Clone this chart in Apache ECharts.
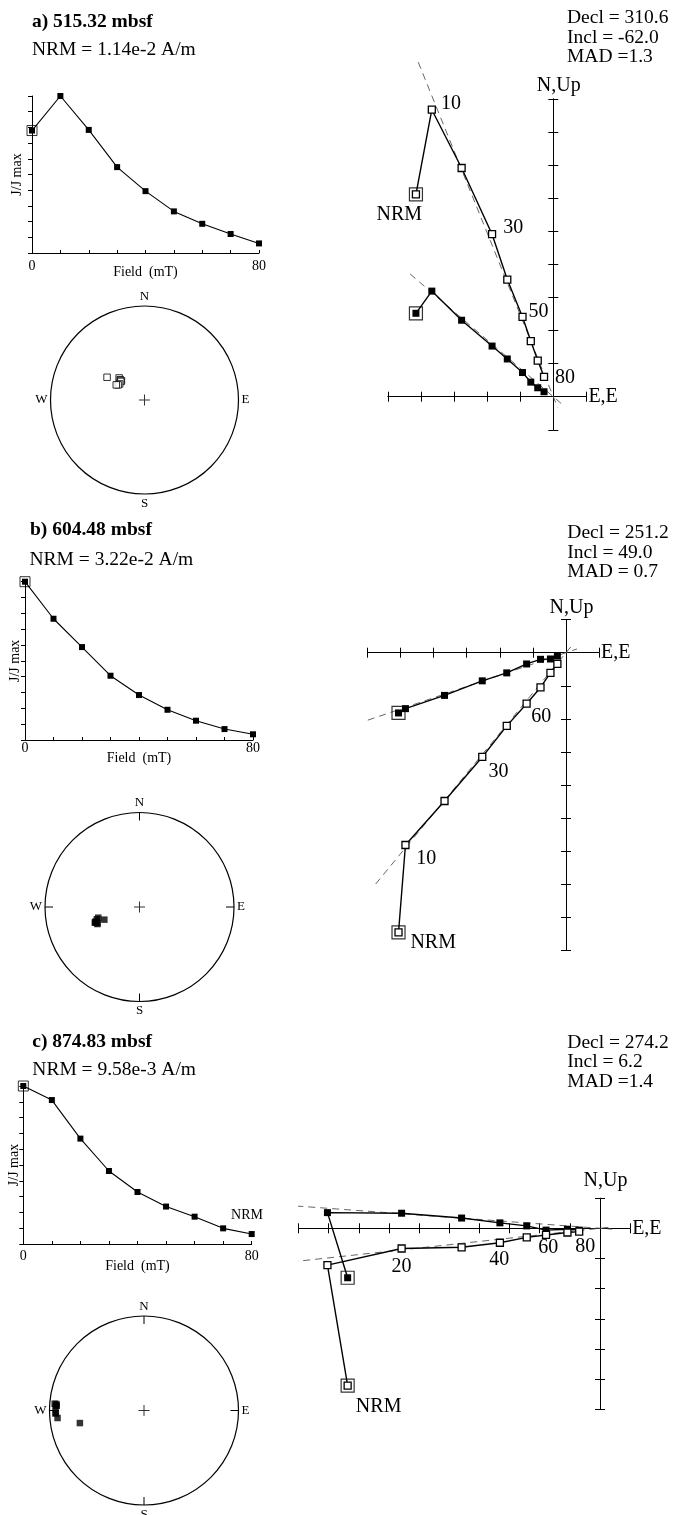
<!DOCTYPE html>
<html>
<head>
<meta charset="utf-8">
<script src="https://cdn.jsdelivr.net/npm/echarts@6/dist/echarts.min.js"></script>
<style>
html, body { margin: 0; padding: 0; background: #fff; }
#main { width: 673px; height: 1515px; }
</style>
</head>
<body>
<div id="main"></div>
<script>
const FONT = '"Liberation Serif", "Times New Roman", serif';

// AF demagnetization steps (mT); index 0 is the NRM
const fieldSteps = [0, 10, 20, 30, 40, 50, 60, 70, 80];

// Normalized intensity J/Jmax at each step
const intensityA = [0.78, 1.0, 0.784, 0.547, 0.394, 0.265, 0.186, 0.121, 0.061];
const intensityB = [1.0, 0.766, 0.587, 0.406, 0.284, 0.191, 0.122, 0.069, 0.036];
const intensityC = [1.0, 0.911, 0.667, 0.462, 0.329, 0.237, 0.173, 0.099, 0.063];

// Vector components per step (arbitrary units = one axis tick)
const eastA  = [-4.15, -3.67, -2.77, -1.85, -1.39, -0.93, -0.68, -0.47, -0.28];
const northA = [2.52, 3.19, 2.31, 1.53, 1.14, 0.73, 0.44, 0.27, 0.15];
const upA    = [6.11, 8.67, 6.91, 4.91, 3.54, 2.41, 1.68, 1.09, 0.60];

const eastB  = [-5.06, -4.85, -3.67, -2.53, -1.79, -1.19, -0.77, -0.47, -0.26];
const northB = [-1.82, -1.69, -1.29, -0.85, -0.61, -0.34, -0.20, -0.19, -0.10];
const upB    = [-8.45, -5.81, -4.48, -3.15, -2.21, -1.54, -1.05, -0.61, -0.34];

const eastC  = [-8.37, -9.04, -6.58, -4.59, -3.32, -2.43, -1.79, -1.08, -0.69];
const northC = [-1.64, 0.52, 0.50, 0.34, 0.18, 0.08, -0.06, -0.03, -0.06];
const upC    = [-5.22, -1.22, -0.67, -0.63, -0.48, -0.30, -0.22, -0.14, -0.11];

// Step annotations on the vertical projection
const stepTextA = ['NRM', '10', '', '30', '', '50', '', '', '80'];
const stepTextB = ['NRM', '10', '', '30', '', '', '60', '', ''];
const stepTextC = ['NRM', '', '20', '', '40', '', '60', '', '80'];

// Principal component results: declination, inclination, MAD
const fitA = [310.6, -62.0, 1.3];
const fitB = [251.2, 49.0, 0.7];
const fitC = [274.2, 6.2, 1.4];

// Extent of the fitted direction along each projection (far end first, then past the origin)
const fitSpanA = { h: [5.7, -0.35], v: [10.9, -0.35] };
const fitSpanB = { h: [7.05, -0.35], v: [9.05, -0.35] };
const fitSpanC = { h: [10.5, -0.4], v: [10.3, -0.4] };

const panels = [
  {
    title: 'a) 515.32 mbsf', nrm: 'NRM = 1.14e-2 A/m', madSep: ' =',
    intensity: intensityA, east: eastA, north: northA, up: upA,
    steps: stepTextA, fit: fitA, span: fitSpanA,
    layout: {
      title: [32, 22], nrm: [32, 50], result: [567, 18.3],
      int: { left: 32, top: 96, width: 227, height: 157, labelMargin: 6, gapX: 12, gapY: 8 },
      zij: { left: 387.8, top: 98.8, width: 198.6, height: 331, x: [-5, 1], y: [-1, 9], upGap: 3 },
      labelOffset: [[-16.7, 20.7], [19.3, -6], null, [21.3, -6.3], null, [16, -5], null, null, [21, 1]],
      net: { center: [144.5, 400], radius: 94, ticks: false }
    }
  },
  {
    title: 'b) 604.48 mbsf', nrm: 'NRM = 3.22e-2 A/m', madSep: ' = ',
    intensity: intensityB, east: eastB, north: northB, up: upB,
    steps: stepTextB, fit: fitB, span: fitSpanB,
    layout: {
      title: [30, 530], nrm: [29.5, 560], result: [567.3, 533.3],
      int: { left: 25, top: 581.7, width: 228, height: 158.3, labelMargin: 1, gapX: 11, gapY: 3 },
      zij: { left: 367.4, top: 619.6, width: 231.7, height: 331, x: [-6, 1], y: [-9, 1], upGap: 2 },
      labelOffset: [[34.7, 10], [20.7, 14], null, [16.3, 15], null, null, [0.7, 29.3], null, null],
      net: { center: [139.5, 907], radius: 94.5, ticks: true }
    }
  },
  {
    title: 'c) 874.83 mbsf', nrm: 'NRM = 9.58e-3 A/m', madSep: ' =',
    intensity: intensityC, east: eastC, north: northC, up: upC,
    steps: stepTextC, fit: fitC, span: fitSpanC,
    layout: {
      title: [32.3, 1041.7], nrm: [32.3, 1070], result: [567.3, 1042.7],
      int: { left: 23.3, top: 1086, width: 228.4, height: 158, labelMargin: 5.5, gapX: 15, gapY: 1.5 },
      zij: { left: 298.5, top: 1198.15, width: 331.65, height: 211.05, x: [-10, 1], y: [-6, 1], upGap: 7 },
      labelOffset: [[31, 21], null, [0, 18], null, [-0.7, 17.3], null, [2.3, 13.3], null, [6, 15]],
      net: { center: [144, 1410.5], radius: 94.5, ticks: true },
      strayNrm: [247, 1215]
    }
  }
];

const BLACK = '#000';
const axisLineStyle = { color: BLACK, width: 1 };
const deg = Math.PI / 180;

// Equal-area projection of one vector onto the lower/upper hemisphere net
function toNet(e, n, u) {
  const h = Math.hypot(e, n);
  const dec = (Math.atan2(e, n) / deg + 360) % 360;
  const inc = Math.atan2(-u, h) / deg;
  const r = Math.SQRT2 * Math.sin((90 - Math.abs(inc)) / 2 * deg);
  return { r, dec, lower: inc >= 0 };
}

const option = {
  animation: false,
  backgroundColor: '#fff',
  textStyle: { fontFamily: FONT },
  grid: [], xAxis: [], yAxis: [],
  polar: [], angleAxis: [], radiusAxis: [],
  series: [], graphic: []
};

function text(x, y, str, size, weight, align) {
  option.graphic.push({
    type: 'text', x, y, silent: true,
    style: {
      text: str, fill: BLACK, align: align || 'left', verticalAlign: 'middle',
      font: (weight || 'normal') + ' ' + size + 'px ' + FONT
    }
  });
}

panels.forEach((p) => {
  const L = p.layout;

  // Headings and fit results
  text(L.title[0], L.title[1], p.title, 19.5, 'bold');
  text(L.nrm[0], L.nrm[1], p.nrm, 19.5);
  text(L.result[0], L.result[1], 'Decl = ' + p.fit[0].toFixed(1), 19.5);
  text(L.result[0], L.result[1] + 19.5, 'Incl = ' + p.fit[1].toFixed(1), 19.5);
  text(L.result[0], L.result[1] + 39, 'MAD' + p.madSep + p.fit[2].toFixed(1), 19.5);
  if (L.strayNrm) text(L.strayNrm[0], L.strayNrm[1], 'NRM', 14, 'normal', 'center');

  // ---- Intensity decay curve ----
  const gi = option.grid.length;
  option.grid.push({ left: L.int.left, top: L.int.top, width: L.int.width, height: L.int.height, containLabel: false, outerBoundsMode: 'none' });
  const xi = option.xAxis.length, yi = option.yAxis.length;
  option.xAxis.push({
    gridIndex: gi, type: 'value', min: 0, max: 80, interval: 10,
    axisLine: { show: true, onZero: false, lineStyle: axisLineStyle },
    axisTick: { show: true, inside: true, length: 3, lineStyle: axisLineStyle },
    axisLabel: {
      formatter: (v) => (v === 0 || v === 80 ? String(v) : ''),
      margin: L.int.labelMargin, fontFamily: FONT, fontSize: 14, color: BLACK
    },
    splitLine: { show: false },
    name: 'Field  (mT)', nameLocation: 'middle', nameGap: L.int.gapX, nameMoveOverlap: false,
    nameTextStyle: { fontFamily: FONT, fontSize: 14, color: BLACK }
  });
  option.yAxis.push({
    gridIndex: gi, type: 'value', min: 0, max: 1, interval: 0.1,
    axisLine: { show: true, onZero: false, lineStyle: axisLineStyle },
    axisTick: { show: true, length: 4, lineStyle: axisLineStyle },
    axisLabel: { show: false },
    splitLine: { show: false },
    name: 'J/J max', nameLocation: 'middle', nameGap: L.int.gapY, nameMoveOverlap: false,
    nameTextStyle: { fontFamily: FONT, fontSize: 14, color: BLACK }
  });
  option.series.push({
    type: 'line', xAxisIndex: xi, yAxisIndex: yi,
    data: fieldSteps.map((f, i) => [f, p.intensity[i]]),
    symbol: 'rect', symbolSize: 6, showAllSymbol: true,
    itemStyle: { color: BLACK },
    lineStyle: { color: BLACK, width: 1.1 },
    silent: true, z: 3
  });
  option.series.push({
    type: 'scatter', xAxisIndex: xi, yAxisIndex: yi,
    data: [[fieldSteps[0], p.intensity[0]]],
    symbol: 'rect', symbolSize: 10,
    itemStyle: { color: 'rgba(0,0,0,0)', borderColor: BLACK, borderWidth: 1 },
    silent: true, z: 4
  });

  // ---- Orthogonal vector diagram ----
  const gz = option.grid.length;
  option.grid.push({ left: L.zij.left, top: L.zij.top, width: L.zij.width, height: L.zij.height, containLabel: false, outerBoundsMode: 'none' });
  const xz = option.xAxis.length, yz = option.yAxis.length;
  const tick = { show: true, length: 5, lineStyle: axisLineStyle };
  const zBase = { gridIndex: gz, type: 'value', interval: 1, splitLine: { show: false }, axisLabel: { show: false } };
  const nameStyle = { fontFamily: FONT, fontSize: 20, color: BLACK };
  option.xAxis.push(Object.assign({}, zBase, {
    min: L.zij.x[0], max: L.zij.x[1], position: 'bottom',
    axisLine: { show: true, onZero: true, onZeroAxisIndex: yz, lineStyle: axisLineStyle },
    axisTick: tick,
    name: 'E,E', nameLocation: 'end', nameGap: 2, nameTextStyle: nameStyle
  }));
  option.xAxis.push(Object.assign({}, zBase, {
    min: L.zij.x[0], max: L.zij.x[1], position: 'top',
    axisLine: { show: false, onZero: true, onZeroAxisIndex: yz, lineStyle: axisLineStyle },
    axisTick: tick
  }));
  option.yAxis.push(Object.assign({}, zBase, {
    min: L.zij.y[0], max: L.zij.y[1], position: 'left',
    axisLine: { show: true, onZero: true, onZeroAxisIndex: xz, lineStyle: axisLineStyle },
    axisTick: tick,
    name: 'N,Up', nameLocation: 'end', nameGap: L.zij.upGap,
    nameTextStyle: Object.assign({ padding: [0, 0, 0, 11] }, nameStyle)
  }));
  option.yAxis.push(Object.assign({}, zBase, {
    min: L.zij.y[0], max: L.zij.y[1], position: 'right',
    axisLine: { show: false, onZero: true, onZeroAxisIndex: xz, lineStyle: axisLineStyle },
    axisTick: tick
  }));

  // Fitted direction, drawn through the origin from Decl / Incl
  const D = p.fit[0] * deg, I = p.fit[1] * deg;
  const hDir = [Math.sin(D), Math.cos(D)];
  const vE = Math.cos(I) * Math.sin(D), vU = -Math.sin(I);
  const vLen = Math.hypot(vE, vU);
  const vDir = [vE / vLen, vU / vLen];
  const fitLine = (dir, span) => ({
    type: 'line', xAxisIndex: xz, yAxisIndex: yz,
    data: span.map((t) => [t * dir[0], t * dir[1]]),
    symbol: 'none', clip: false, silent: true, z: 1,
    lineStyle: { color: '#555', width: 0.9, type: [7, 5] }
  });
  option.series.push(fitLine(hDir, p.span.h));
  option.series.push(fitLine(vDir, p.span.v));

  // Horizontal projection (E, N): filled squares
  option.series.push({
    type: 'line', xAxisIndex: xz, yAxisIndex: yz,
    data: p.east.map((e, i) => [e, p.north[i]]),
    symbol: 'rect', symbolSize: 7, showAllSymbol: true, clip: false,
    itemStyle: { color: BLACK },
    lineStyle: { color: BLACK, width: 1.4 },
    silent: true, z: 3
  });
  // Vertical projection (E, Up): open squares with step labels
  option.series.push({
    type: 'line', xAxisIndex: xz, yAxisIndex: yz,
    data: p.east.map((e, i) => {
      const item = { value: [e, p.up[i]] };
      if (p.steps[i]) {
        item.label = {
          show: true, formatter: p.steps[i], position: 'inside',
          offset: L.labelOffset[i], align: 'center', verticalAlign: 'middle',
          fontFamily: FONT, fontSize: 20, color: BLACK
        };
      }
      return item;
    }),
    symbol: 'rect', symbolSize: 7, showAllSymbol: true, clip: false,
    itemStyle: { color: '#fff', borderColor: BLACK, borderWidth: 1.3 },
    lineStyle: { color: BLACK, width: 1.4 },
    silent: true, z: 3
  });
  // Frames around the NRM points
  option.series.push({
    type: 'scatter', xAxisIndex: xz, yAxisIndex: yz,
    data: [[p.east[0], p.north[0]], [p.east[0], p.up[0]]],
    symbol: 'rect', symbolSize: 13, clip: false,
    itemStyle: { color: 'rgba(0,0,0,0)', borderColor: BLACK, borderWidth: 1.2 },
    silent: true, z: 4
  });

  // ---- Equal-area stereonet ----
  const pi = option.polar.length;
  option.polar.push({ center: L.net.center, radius: L.net.radius });
  const dirLabel = { 0: 'N', 90: 'E', 180: 'S', 270: 'W' };
  option.angleAxis.push({
    polarIndex: pi, type: 'value', min: 0, max: 360, interval: 90,
    startAngle: 90, clockwise: true,
    axisLine: { show: true, lineStyle: { color: BLACK, width: 1.2 } },
    axisTick: { show: L.net.ticks, inside: true, length: 8, lineStyle: axisLineStyle },
    axisLabel: {
      formatter: (v) => dirLabel[v] || '', margin: 3,
      fontFamily: FONT, fontSize: 13, color: BLACK
    },
    splitLine: { show: false }, splitArea: { show: false }
  });
  option.radiusAxis.push({
    polarIndex: pi, type: 'value', min: 0, max: 1,
    axisLine: { show: false }, axisTick: { show: false }, axisLabel: { show: false },
    splitLine: { show: false }, splitArea: { show: false }
  });
  const net = p.east.map((e, i) => toNet(e, p.north[i], p.up[i]));
  option.series.push({
    type: 'scatter', coordinateSystem: 'polar', polarIndex: pi,
    data: net.filter((d) => !d.lower).map((d) => [d.r, d.dec]),
    symbol: 'rect', symbolSize: 6.5,
    itemStyle: { color: '#fff', borderColor: BLACK, borderWidth: 1 },
    silent: true, z: 3
  });
  option.series.push({
    type: 'scatter', coordinateSystem: 'polar', polarIndex: pi,
    data: net.filter((d) => d.lower).map((d) => [d.r, d.dec]),
    symbol: 'rect', symbolSize: 6.5,
    itemStyle: { color: BLACK },
    silent: true, z: 3
  });
  // Centre cross
  option.series.push({
    type: 'scatter', coordinateSystem: 'polar', polarIndex: pi,
    data: [[0, 0]],
    symbol: 'path://M5,0h1v5h5v1h-5v5h-1v-5h-5v-1h5z', symbolSize: 11,
    itemStyle: { color: BLACK },
    silent: true, z: 2
  });
});

const chart = echarts.init(document.getElementById('main'), null, { renderer: 'canvas' });
chart.setOption(option);
</script>
</body>
</html>
